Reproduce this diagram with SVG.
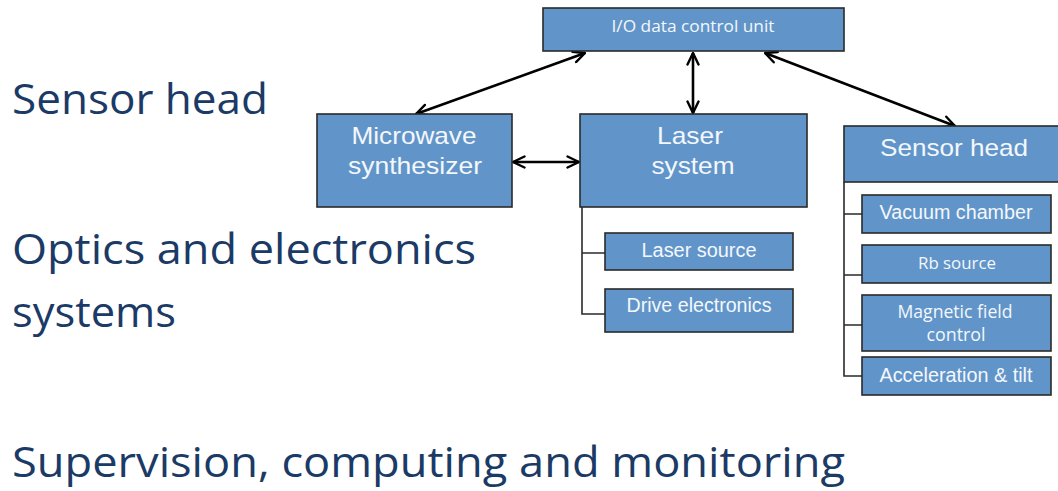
<svg xmlns="http://www.w3.org/2000/svg" width="1058" height="491" viewBox="0 0 1058 491">
<defs>
<marker id="arr" viewBox="0 0 14 14" refX="13" refY="7" markerWidth="14" markerHeight="14" markerUnits="userSpaceOnUse" orient="auto-start-reverse">
<path d="M1.5,1.5 L13,7 L1.5,12.5" fill="none" stroke="#000" stroke-width="2.4" stroke-linecap="round" stroke-linejoin="round"/>
</marker>
</defs>
<style>
.box{fill:#6195C9;stroke:#2a2a2a;stroke-width:1.6}
.t{fill:#F4F7FB;font-family:"Liberation Sans",Arial,sans-serif;text-anchor:middle}
.tc{fill:#F4F7FB;font-family:"Open Sans","Noto Sans",sans-serif;text-anchor:middle}
.big{fill:#1B3A66;font-family:"Open Sans","Noto Sans",sans-serif}
.con{fill:none;stroke:#000;stroke-width:2.6}
.tree{fill:none;stroke:#2a2a2a;stroke-width:1.6}
</style>
<rect width="1058" height="491" fill="#fff"/>

<g id="labels">
<text class="big" x="12" y="114" font-size="42" textLength="256" lengthAdjust="spacingAndGlyphs">Sensor head</text>
<text class="big" x="12" y="264" font-size="42" textLength="464" lengthAdjust="spacingAndGlyphs">Optics and electronics</text>
<text class="big" x="12" y="327" font-size="42" textLength="164" lengthAdjust="spacingAndGlyphs">systems</text>
<text class="big" x="12" y="477" font-size="42" textLength="833" lengthAdjust="spacingAndGlyphs">Supervision, computing and monitoring</text>
</g>

<g id="connectors">
<line class="con" x1="585" y1="53" x2="416" y2="114" marker-start="url(#arr)" marker-end="url(#arr)"/>
<line class="con" x1="693" y1="53" x2="693" y2="113" marker-start="url(#arr)" marker-end="url(#arr)"/>
<line class="con" x1="513" y1="162" x2="579" y2="162" marker-start="url(#arr)" marker-end="url(#arr)"/>
<line class="con" x1="765" y1="53" x2="955" y2="126" marker-start="url(#arr)" marker-end="url(#arr)"/>
<path class="tree" d="M582,207 V314 H605 M582,253 H605"/>
<path class="tree" d="M844,182 V376 H862 M844,214 H862 M844,275 H862 M844,325 H862"/>
</g>

<g id="io">
<rect class="box" x="543" y="8" width="301" height="43"/>
<text class="tc" x="693" y="32" font-size="17" textLength="163" lengthAdjust="spacingAndGlyphs">I/O data control unit</text>
</g>

<g id="microwave">
<rect class="box" x="317" y="114" width="195" height="93"/>
<text class="t" x="414" y="144" font-size="24" textLength="125" lengthAdjust="spacingAndGlyphs">Microwave</text>
<text class="t" x="415" y="174" font-size="24" textLength="134" lengthAdjust="spacingAndGlyphs">synthesizer</text>
</g>

<g id="laser">
<rect class="box" x="580" y="114" width="227" height="93"/>
<text class="t" x="690" y="144" font-size="24" textLength="66" lengthAdjust="spacingAndGlyphs">Laser</text>
<text class="t" x="693" y="174" font-size="24" textLength="83" lengthAdjust="spacingAndGlyphs">system</text>
</g>

<g id="laser-source">
<rect class="box" x="605" y="233" width="188" height="37"/>
<text class="t" x="699" y="257" font-size="19.5" textLength="115" lengthAdjust="spacingAndGlyphs">Laser source</text>
</g>

<g id="drive">
<rect class="box" x="605" y="289" width="188" height="43"/>
<text class="t" x="699" y="312" font-size="19.5" textLength="145" lengthAdjust="spacingAndGlyphs">Drive electronics</text>
</g>

<g id="sensor">
<rect class="box" x="844" y="126" width="216" height="56"/>
<text class="t" x="954" y="156" font-size="24" textLength="148" lengthAdjust="spacingAndGlyphs">Sensor head</text>
</g>

<g id="vacuum">
<rect class="box" x="862" y="195" width="189" height="38"/>
<text class="t" x="956" y="219" font-size="19.5" textLength="153" lengthAdjust="spacingAndGlyphs">Vacuum chamber</text>
</g>

<g id="rb">
<rect class="box" x="862" y="245" width="189" height="38"/>
<text class="tc" x="957" y="269" font-size="16.5" textLength="78" lengthAdjust="spacingAndGlyphs">Rb source</text>
</g>

<g id="magnetic">
<rect class="box" x="862" y="295" width="189" height="56"/>
<text class="tc" x="955" y="318" font-size="17.5" textLength="115" lengthAdjust="spacingAndGlyphs">Magnetic field</text>
<text class="tc" x="956" y="341" font-size="17.5" textLength="59" lengthAdjust="spacingAndGlyphs">control</text>
</g>

<g id="accel">
<rect class="box" x="862" y="357" width="189" height="38"/>
<text class="t" x="956" y="382" font-size="19.5" textLength="153" lengthAdjust="spacingAndGlyphs">Acceleration &amp; tilt</text>
</g>
</svg>
